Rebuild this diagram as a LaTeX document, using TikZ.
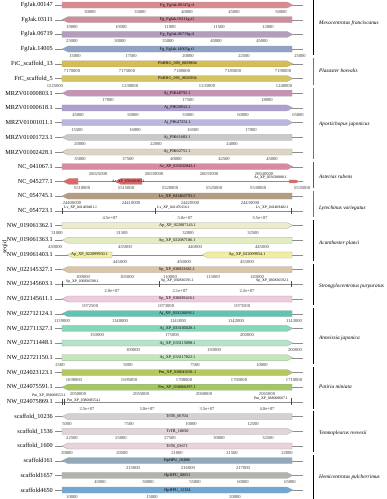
\documentclass[tikz,border=0pt]{standalone}
\usepackage{fontspec}
\setmainfont{Liberation Serif}
\definecolor{cA}{HTML}{D98A8E}
\definecolor{cB}{HTML}{CF8C9A}
\definecolor{cC}{HTML}{B39DBD}
\definecolor{cD}{HTML}{8FA3C4}
\definecolor{cE}{HTML}{D8BC4C}
\definecolor{cF}{HTML}{D6C462}
\definecolor{cG}{HTML}{C792B4}
\definecolor{cH}{HTML}{AD9FCF}
\definecolor{cI}{HTML}{B9B7DE}
\definecolor{cJ}{HTML}{C9C9C9}
\definecolor{cK}{HTML}{DCD4C4}
\definecolor{cL}{HTML}{D88BA0}
\definecolor{cM}{HTML}{E06666}
\definecolor{cN}{HTML}{B39C80}
\definecolor{cO}{HTML}{ECEBCC}
\definecolor{cP}{HTML}{E3EBC2}
\definecolor{cQ}{HTML}{F1EF9E}
\definecolor{cR}{HTML}{DCC4A6}
\definecolor{cS}{HTML}{F0C9DC}
\definecolor{cT}{HTML}{5FC4B2}
\definecolor{cU}{HTML}{86D6B8}
\definecolor{cV}{HTML}{B4E3C8}
\definecolor{cW}{HTML}{C3E8B8}
\definecolor{cX}{HTML}{B4C95E}
\definecolor{cY}{HTML}{A3C95E}
\definecolor{cZ}{HTML}{D2D2D2}
\definecolor{da}{HTML}{E2D3DC}
\definecolor{db}{HTML}{E9D2DA}
\definecolor{dc}{HTML}{91A9B9}
\definecolor{dd}{HTML}{B3B3AC}
\definecolor{de}{HTML}{6FA8D3}
\tikzset{
  mol/.style={draw=black!45, line width=0.4pt},
  rowlab/.style={anchor=east, font=\fontsize{6.2}{7}\selectfont, inner sep=0pt},
  genebox/.style={draw=black!35, line width=0.25pt},
  glab/.style={font=\fontsize{4.2}{5}\selectfont, inner sep=0pt},
  slab/.style={font=\fontsize{3.8}{4.5}\selectfont, inner sep=0pt},
  ticklab/.style={font=\fontsize{4.6}{5}\selectfont, inner sep=0pt, text=black!75},
  grpbar/.style={line width=0.9pt},
  splab/.style={anchor=west, font=\fontsize{5.3}{6}\selectfont\itshape, inner sep=0pt},
  genemark/.style={draw=black!70, line width=0.5pt}
}
% molecule line + row label
\newcommand{\molrow}[2]{%
  \draw[mol] (55,#1) -- (303,#1);
  \node[rowlab] at (53,#1) {#2};}
% right-pointing gene: y, x1, x2, colour, label
\newcommand{\geneR}[5]{%
  \draw[genebox, fill=#4] (#2,#1-3) -- (#3-6,#1-3) -- (#3,#1) -- (#3-6,#1+3) -- (#2,#1+3) -- cycle;
  \node[glab] at ({(#2+#3)/2},#1) {#5};}
% left-pointing gene: y, x1, x2, colour, label
\newcommand{\geneL}[5]{%
  \draw[genebox, fill=#4] (#3,#1-3) -- (#2+6,#1-3) -- (#2,#1) -- (#2+6,#1+3) -- (#3,#1+3) -- cycle;
  \node[glab] at ({(#2+#3)/2},#1) {#5};}
% tick labels: y, list
\newcommand{\ticklabels}[2]{%
  \foreach \tkpos/\tklab in {#2} {\node[ticklab] at (\tkpos,#1+7) {\tklab};}}
% group bar + species: y1, y2, colour, label y, species
\newcommand{\grp}[5]{%
  \draw[grpbar, draw=#3] (313,#1) -- (313,#2);
  \node[splab] at (319,#4) {#5};}
\begin{document}
\begin{tikzpicture}[x=1pt,y=-1pt]
\useasboundingbox[fill=white] (0,0) rectangle (387,499);
% axis title
\node[rotate=90, font=\fontsize{6}{7}\selectfont] (axt) at (5,247) {seqid};

% ---- rows ----
\molrow{5}{FgJak.00147}
\geneR{5}{62}{293}{cA}{Fg\_FgJak.00147g.t1}
\ticklabels{5}{90/30000,140/35000,187/40000,234/45000,281/50000}

\molrow{19.7}{FgJak.03111}
\geneL{19.7}{62}{292}{cB}{Fg\_FgJak.03111g.t1}
\ticklabels{19.7}{72/10000,121/10500,170/11000,219/11500,268/12000}

\molrow{34.4}{FgJak.06719}
\geneR{34.4}{62}{293}{cC}{Fg\_FgJak.06719g.t1}
\ticklabels{34.4}{72/25000,120/30000,168/35000,216/40000,262/45000}

\molrow{49.1}{FgJak.14005}
\geneL{49.1}{62}{292}{cD}{Fg\_FgJak.14005g.t1}
\ticklabels{49.1}{75/15000,131/17500,188/20000,244/22500,300/25000}

\molrow{63.8}{FtC\_scaffold\_13}
\geneR{63.8}{62}{293}{cE}{PbHRG\_009\_0029804}
\ticklabels{63.8}{72/7170000,127/7175000,182/7180000,233/7185000,283/7190000}

\molrow{78.5}{FtC\_scaffold\_5}
\geneR{78.5}{62}{293}{cF}{PbHRG\_005\_0026904}
\ticklabels{78.5}{55/1225000,130/1230000,207/1235000,284/1240000}

\molrow{93.2}{MRZV01000803.1}
\geneL{93.2}{62}{292}{cG}{Aj\_PIK48792.1}
\ticklabels{93.2}{108/17000,188/17500,267/18000}

\molrow{107.9}{MRZV01000618.1}
\geneR{107.9}{62}{293}{cH}{Aj\_PIK58922.1}
\ticklabels{107.9}{78/45000,133/50000,188/55000,243/60000,298/65000}

\molrow{122.6}{MRZV01001011.1}
\geneR{122.6}{62}{293}{cI}{Aj\_PIK47251.1}
\ticklabels{122.6}{77/15500,135/16000,193/16500,251/17000}

\molrow{137.3}{MRZV01001723.1}
\geneL{137.3}{62}{292}{cJ}{Aj\_PIK61683.1}
\ticklabels{137.3}{80/20000,156/22000,232/24000}

\molrow{152}{MRZV01002428.1}
\geneL{152}{62}{292}{cK}{Aj\_PIK62751.1}
\ticklabels{152}{80/35000,128/37500,176/40000,224/42500,272/45000}

\molrow{166.7}{NC\_041067.1}
\geneR{166.7}{62}{293}{cL}{Ar\_XP\_033632843.1}
\ticklabels{166.7}{98/26025000,154/26030000,209/26035000,264/26040000}

\molrow{181.4}{NC\_045277.1}
\geneL{181.4}{63}{78}{cM}{}
\geneL{181.4}{115}{142}{cM}{}
\node[slab] at (128.5,181.4) {Ar\_XP\_033636283.1};
\draw[genebox, fill=cM] (289,179.9) -- (296,179.9) -- (299,181.4) -- (296,182.9) -- (289,182.9) -- cycle;
\node[slab, anchor=east] at (287,177.5) {Ar\_XP\_033630808.1};
\ticklabels{181.4}{82/5510000,126/5515000,170/5520000,214/5525000,258/5530000,302/5535000}

\molrow{196.1}{NC\_054745.1}
\geneL{196.1}{62}{292}{cN}{Lv\_XP\_041466793.1}
\ticklabels{196.1}{72/24400000,131/24410000,190/24420000,250/24430000}

\molrow{210.8}{NC\_054723.1}
\draw[genemark] (62,207.8) -- (62,213.8);
\draw[genemark] (155,207.8) -- (155,213.8);
\draw[genemark] (291,207.8) -- (291,213.8);
\node[slab, anchor=west] at (64,207) {Lv\_XP\_041469481.1};
\node[slab, anchor=west] at (157,207) {Lv\_XP\_041470116.1};
\node[slab, anchor=east] at (289,207) {Lv\_XP\_041469482.1};
\ticklabels{210.8}{110/4.5e+07,185/5.0e+07,260/5.5e+07}

\molrow{225.5}{NW\_019061362.1}
\geneR{225.5}{62}{293}{cO}{Ap\_XP\_022087143.1}
\ticklabels{225.5}{57/31000,122/31500,188/32000,253/32500}

\molrow{240.2}{NW\_019061363.1}
\geneL{240.2}{62}{292}{cP}{Ap\_XP\_022087186.1}
\ticklabels{240.2}{55/430000,125/435000,195/440000,262/445000}

\molrow{254.9}{NW\_019061403.1}
\geneL{254.9}{67}{112}{cQ}{Ap\_XP\_022099950.1}
\geneL{254.9}{202}{292}{cQ}{Ap\_XP\_022099954.1}
\ticklabels{254.9}{120/445000,184/450000,247/455000}

\molrow{269.6}{NW\_022145327.1}
\geneL{269.6}{62}{292}{cR}{Sp\_XP\_030833681.1}
\ticklabels{269.6}{83/100000,127/105000,170/110000,213/115000,257/120000}

\molrow{284.3}{NW\_022145603.1}
\draw[genemark] (62,281.3) -- (62,287.3);
\draw[genemark] (159,281.3) -- (159,287.3);
\draw[genemark] (291,281.3) -- (291,287.3);
\node[slab, anchor=west] at (66,282) {Sp\_XP\_030836590.1};
\node[slab, anchor=west] at (161,281) {Sp\_XP\_030836591.1};
\node[slab, anchor=east] at (289,281) {Sp\_XP\_030836592.1};
\ticklabels{284.3}{112/2.0e+07,180/2.1e+07,247/2.2e+07}

\molrow{299}{NW\_022145611.1}
\geneL{299}{62}{292}{cS}{Sp\_XP\_030839426.1}
\ticklabels{299}{90/1072500,166/1073000,242/1073500}

\molrow{313.7}{NW\_022712124.1}
\geneL{313.7}{62}{292}{cT}{Aj\_XP\_033126093.1}
\ticklabels{313.7}{62/1139000,120/1140000,178/1141000,236/1142000,294/1143000}

\molrow{328.4}{NW\_022711327.1}
\geneR{328.4}{62}{293}{cU}{Aj\_XP\_033105020.1}
\ticklabels{328.4}{97/150000,172/175000,247/200000}

\molrow{343.1}{NW\_022711448.1}
\geneR{343.1}{62}{293}{cV}{Aj\_XP\_033115098.1}
\ticklabels{343.1}{133/100000,214/150000,295/200000}

\molrow{357.8}{NW\_022721150.1}
\geneR{357.8}{62}{293}{cW}{Aj\_XP\_033117822.1}
\ticklabels{357.8}{60/2500,128/5000,195/7500,262/10000}

\molrow{372.5}{NW\_024023123.1}
\geneR{372.5}{62}{293}{cX}{Pm\_XP\_038049201.1}
\ticklabels{372.5}{74/1690000,129/1695000,184/1700000,239/1705000,294/1710000}

\molrow{387.2}{NW\_024075591.1}
\geneL{387.2}{62}{292}{cY}{Pm\_XP\_038066297.1}
\ticklabels{387.2}{78/2050000,141/2055000,204/2060000,267/2065000}

\molrow{401.9}{NW\_024075869.1}
\draw[genemark] (62,398.9) -- (62,404.9);
\draw[genemark] (64,398.9) -- (64,404.9);
\draw[genemark] (291,397.9) -- (291,404.9);
\node[slab, anchor=east] at (66,395) {Pm\_XP\_038068553.1};
\node[slab, anchor=west] at (67,400) {Pm\_XP\_038068554.1};
\node[slab, anchor=east] at (288,398) {Pm\_XP\_038068667.1};
\ticklabels{401.9}{87/2.5e+07,147/3.0e+07,207/3.5e+07,267/4.0e+07}

\molrow{416.6}{scaffold\_10236}
\geneL{416.6}{62}{292}{cZ}{TrTR\_06704}
\ticklabels{416.6}{67/5000,129/7500,191/10000,253/12500}

\molrow{431.3}{scaffold\_1536}
\geneR{431.3}{62}{293}{da}{TrTR\_18650}
\ticklabels{431.3}{72/22500,121/25000,170/27500,219/30000,268/32500}

\molrow{446}{scaffold\_1600}
\geneL{446}{62}{292}{db}{TrTR\_03671}
\ticklabels{446}{67/20000,122/20500,177/21000,232/21500,287/22000}

\molrow{460.7}{scaffold161}
\geneL{460.7}{62}{292}{dc}{HpHPU\_06806}
\ticklabels{460.7}{133/215000,188/216000,243/217000}

\molrow{475.4}{scaffold1657}
\geneR{475.4}{62}{293}{dd}{HpHPU\_08651}
\ticklabels{475.4}{100/45000,148/50000,195/55000,243/60000,290/65000}

\molrow{490.1}{scaffold4650}
\geneR{490.1}{62}{293}{de}{HpHPU\_12324}
\ticklabels{490.1}{72/10000,152/15000,235/20000}

% ---- species groups ----
\grp{0}{55}{black}{23}{Mesocentrotus franciscanus}
\grp{58}{85}{black!55}{71}{Plazaster borealis}
\grp{88}{159}{black!55}{124}{Apostichopus japonicus}
\grp{162}{188}{black!65}{177}{Asterias rubens}
\grp{191}{217}{black!55}{208}{Lytechinus variegatus}
\grp{220}{261}{black}{243}{Acanthaster planci}
\grp{264}{305}{black}{286}{Strongylocentrotus purpuratus}
\grp{308}{364}{black}{338}{Anneissia japonica}
\grp{367}{409}{black}{387}{Patiria miniata}
\grp{411}{452}{black}{433}{Temnopleurus reevesii}
\grp{455}{499}{black}{477}{Hemicentrotus pulcherrimus}
\end{tikzpicture}
\end{document}
